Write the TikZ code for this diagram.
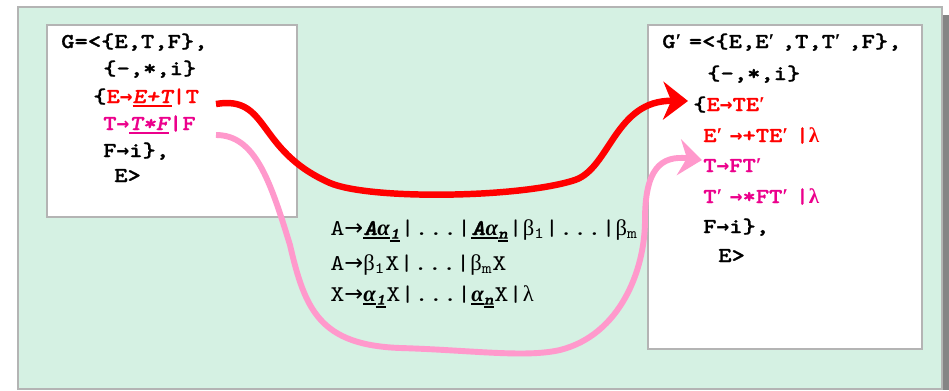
\documentclass[tikz,border=0pt]{standalone}
\usepackage{fontspec}
\setmainfont{Liberation Serif}
\newfontfamily\boxfont{lmmonolt10-bold.otf}[FakeStretch=1.2, FakeBold=1.2,
    ItalicFont=lmmonolt10-boldoblique.otf]
\newfontfamily\midfont{lmmono10-regular.otf}[FakeStretch=1.2]
\newfontfamily\arrfont{DejaVu Sans Mono}
\newfontfamily\thinarr{DejaVu Sans}
\usetikzlibrary{arrows.meta}

\definecolor{bgmint}{HTML}{D5F1E3}
\definecolor{boxgrey}{HTML}{B4B4B4}
\definecolor{shadowgrey}{HTML}{858585}
\definecolor{arrowpink}{HTML}{FF99CC}

% thick underline that keeps the current colour
\newcommand{\hul}[1]{\vtop{\hbox{#1}\kern1.2pt\hrule height 1.5pt}}
\newcommand{\gr}[1]{{\rmfamily\bfseries #1}}
\newcommand{\ar}{{\arrfont\bfseries →}}
\newcommand{\pr}{\makebox[\fontcharwd\font`E][l]{\gr{′}}}
\newcommand{\greek}[1]{{\rmfamily #1}}

\begin{document}
\begin{tikzpicture}[
    code/.style={anchor=base west, inner sep=0pt,
                 font=\boxfont\fontsize{15}{18}\selectfont},
    mid/.style={anchor=base west, inner sep=0pt,
                font=\midfont\fontsize{16}{19}\selectfont},
    gbox/.style={fill=white, draw=boxgrey, line width=1.4pt},
    redarr/.style={-{Stealth[length=0.62cm, width=0.95cm, inset=0.2cm]},
                   line width=4.6pt, red},
    pinkarr/.style={-{Stealth[length=0.58cm, width=0.9cm, inset=0.2cm]},
                    line width=4.2pt, arrowpink},
]
\useasboundingbox (0,0) rectangle (23.725,-9.75);

% Background
\fill[shadowgrey] (23.575,-0.375) rectangle (23.725,-9.75);
\filldraw[fill=bgmint, draw=boxgrey, line width=1.4pt]
    (0.45,-0.175) rectangle (23.55,-9.725);

% Grammar G
\draw[gbox] (1.175,-0.625) rectangle (7.425,-5.425);
\node[code] (l1) at (1.525,-1.2) {G=<\{E,T,F\},};
\node[code] (l2) at (2.575,-1.875) {\{-,*,i\}};
\node[code] (l3) at (2.325,-2.575)
    {\{\textcolor{red}{E\ar\hul{\itshape E+T}|T}};
\node[code] (l4) at (2.575,-3.25)
    {\textcolor{magenta}{T\ar\hul{\itshape T*F}|F}};
\node[code] (l5) at (2.575,-3.925) {F\ar i\},};
\node[code] (l6) at (2.85,-4.55) {E>};

% Grammar G'
\draw[gbox] (16.2,-0.625) rectangle (23.05,-8.725);
\node[code] (r1) at (16.55,-1.2) {G\pr=<\{E,E\pr,T,T\pr,F\},};
\node[code] (r2) at (17.675,-2.0) {\{-,*,i\}};
\node[code] (r3) at (17.325,-2.775) {\{\textcolor{red}{E\ar TE\pr}};
\node[code] (r4) at (17.575,-3.55) {\textcolor{red}{E\pr\ar+TE\pr|\gr{λ}}};
\node[code] (r5) at (17.575,-4.3) {\textcolor{magenta}{T\ar FT\pr}};
\node[code] (r6) at (17.575,-5.075) {\textcolor{magenta}{T\pr\ar*FT\pr|\gr{λ}}};
\node[code] (r7) at (17.575,-5.825) {F\ar i\},};
\node[code] (r8) at (17.95,-6.55) {E>};

% Rule
\node[mid] (m1) at (8.25,-5.875)
    {A{\thinarr →}\hul{\boxfont\itshape A\gr{\itshape α}}\textsubscript{\hul{\boxfont\itshape 1}}|...|%
     \hul{\boxfont\itshape A\gr{\itshape α}}\textsubscript{\hul{\boxfont\itshape n}}|%
     \greek{β}\textsubscript{1}|...|\greek{β}\textsubscript{m}};
\node[mid] (m2) at (8.25,-6.75)
    {A{\thinarr →}\greek{β}\textsubscript{1}X|...|\greek{β}\textsubscript{m}X};
\node[mid] (m3) at (8.25,-7.525)
    {X{\thinarr →}\hul{\gr{\itshape α}}\textsubscript{\hul{\boxfont\itshape 1}}X|...|%
     \hul{\gr{\itshape α}}\textsubscript{\hul{\boxfont\itshape n}}X|\greek{λ}};

% Arrows
\coordinate (redtail) at (5.4,-2.6);
\coordinate (redtip) at (17.2,-2.525);
\coordinate (pinktail) at (5.4,-3.375);
\coordinate (pinktip) at (17.55,-4.0);

\draw[redarr] (redtail) .. controls (6.75,-2.375) and (6.375,-3.75) .. (8.25,-4.575)
    .. controls (9.25,-5.0) and (13.0,-4.95) .. (14.375,-4.5)
    .. controls (15.25,-4.2) and (15.375,-2.5) .. (redtip);
\draw[pinkarr] (pinktail) .. controls (6.375,-3.375) and (6.75,-4.5) .. (7.25,-6.125)
    .. controls (7.625,-7.75) and (8.0,-8.625) .. (10.0,-8.7)
    .. controls (11.75,-8.75) and (13.125,-8.95) .. (14.0,-8.75)
    .. controls (15.5,-8.375) and (16.125,-6.75) .. (16.125,-5.5)
    .. controls (16.125,-4.25) and (16.5,-3.875) .. (pinktip);

\end{tikzpicture}
\end{document}
